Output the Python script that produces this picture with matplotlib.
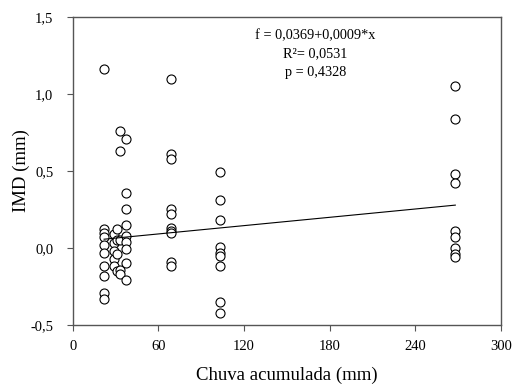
import matplotlib
matplotlib.use("Agg")
import matplotlib.pyplot as plt
import numpy as np

plt.rcParams['font.family'] = ['Liberation Serif', 'DejaVu Serif']

# Data (Chuva acumulada, IMD)
x22 = [1.165, 0.12, 0.10, 0.07, 0.02, -0.03, -0.12, -0.18, -0.29, -0.33]
x29 = [0.09, 0.03, -0.02, -0.07, -0.12]
x31 = [0.12, 0.05, -0.04, -0.15]
x33 = [0.76, 0.63, 0.05, -0.14, -0.17]
x37 = [0.71, 0.36, 0.25, 0.15, 0.08, 0.04, -0.01, -0.10, -0.21]
x69 = [1.10, 0.61, 0.58, 0.25, 0.22, 0.13, 0.11, 0.10, -0.09, -0.12]
x103 = [0.49, 0.31, 0.18, 0.005, -0.03, -0.055, -0.12, -0.35, -0.42]
x268 = [1.05, 0.84, 0.48, 0.42, 0.11, 0.07, 0.0, -0.04, -0.06]

groups = {22: x22, 29: x29, 31: x31, 33: x33, 37: x37, 69: x69, 103: x103, 268: x268}

intercept = 0.0369
slope = 0.0009
stats_lines = ["f = 0,0369+0,0009*x", "R\u00b2= 0,0531", "p = 0,4328"]

xticks = [0, 60, 120, 180, 240, 300]
yticks = [-0.5, 0.0, 0.5, 1.0, 1.5]
ytick_labels = ["-0,5", "0,0", "0,5", "1,0", "1,5"]

fig = plt.figure(figsize=(5.12, 3.85), dpi=100)
ax = fig.add_axes([0.142, 0.156, 0.8365, 0.80])

xs, ys = [], []
for k, v in groups.items():
    xs += [k] * len(v)
    ys += v
ax.plot(xs, ys, linestyle='none', marker='o', markersize=6.5, markerfacecolor='white',
        markeredgecolor='black', markeredgewidth=0.8)

xl = np.array([min(xs), max(xs)])
ax.plot(xl, intercept + slope * xl, color='black', lw=0.8)

ax.set_xlim(0, 300)
ax.set_ylim(-0.5, 1.5)
ax.set_xticks(xticks)
ax.set_xticklabels([str(t) for t in xticks])
ax.set_yticks(yticks)
ax.set_yticklabels(ytick_labels)
ax.tick_params(direction='out', length=4, width=0.8, labelsize=10.5, color='#555555')
ax.tick_params(axis='x', pad=7)
ax.tick_params(axis='y', pad=10)
for s in ax.spines.values():
    s.set_color('#555555')
    s.set_linewidth(1.0)

ax.set_xlabel("Chuva acumulada (mm)", fontsize=13.5, labelpad=10)
ax.set_ylabel("IMD (mm)", fontsize=13.5, labelpad=0)

for i, t in enumerate(stats_lines):
    ax.text(0.567, 0.94 - i * 0.06, t, transform=ax.transAxes, ha='center', va='center', fontsize=10.3)

fig.savefig("out.png", dpi=100)
